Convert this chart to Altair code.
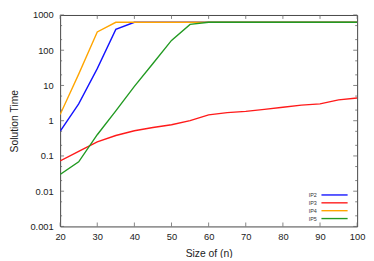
import altair as alt
import pandas as pd

sizes = [20, 25, 30, 35, 40, 45, 50, 55, 60, 65, 70, 75, 80, 85, 90, 95, 100]
ip2 = [0.5, 3.0, 30, 390, 620, 620, 620, 620, 620, 620, 620, 620, 620, 620, 620, 620, 620]
ip3 = [0.072, 0.135, 0.25, 0.38, 0.52, 0.64, 0.77, 1.0, 1.47, 1.7, 1.84, 2.1, 2.4, 2.77, 3.0, 3.9, 4.4]
ip4 = [1.5, 21, 330, 620, 620, 620, 620, 620, 620, 620, 620, 620, 620, 620, 620, 620, 620]
ip5 = [0.03, 0.068, 0.4, 1.9, 9.4, 42, 190, 540, 620, 620, 620, 620, 620, 620, 620, 620, 620]

series = ["IP2", "IP3", "IP4", "IP5"]
colors = ["#1414ff", "#ff1a1a", "#ffa500", "#229a22"]
y_major = [0.001, 0.01, 0.1, 1, 10, 100, 1000]
y_minor = [0.002, 0.005, 0.02, 0.05, 0.2, 0.5, 2, 5, 20, 50, 200, 500]
x_major = [20, 30, 40, 50, 60, 70, 80, 90, 100]

W, H = 302, 215
FONT = "Liberation Sans"

rows = []
for name, vals in zip(series, [ip2, ip3, ip4, ip5]):
    for n, t in zip(sizes, vals):
        rows.append({"series": name, "n": n, "t": t})
df = pd.DataFrame(rows)

xs = alt.Scale(domain=[20, 100], nice=False, zero=False)
ys = alt.Scale(type="log", domain=[0.001, 1000], nice=False)

x_axis = alt.Axis(values=x_major, title="Size of (n)", ticks=False, tickCount=9,
                  domain=False, grid=False, labelPadding=5, titlePadding=8,
                  labelOverlap=False, labelFlush=False, labelBound=False,
                  labelFontSize=9.5, titleFontSize=10.5, titleFontWeight="normal")
y_axis = alt.Axis(values=y_major, format="~g", title="Solution Time", ticks=False,
                  domain=False, grid=False, labelPadding=7, titlePadding=11,
                  labelOverlap=False, labelFlush=False,
                  labelFontSize=9.5, titleFontSize=10.5, titleFontWeight="normal")

X = lambda: alt.X("n:Q", scale=xs, axis=x_axis)
Y = lambda: alt.Y("t:Q", scale=ys, axis=y_axis)

lines = alt.Chart(df).mark_line(strokeWidth=1.4, clip=True).encode(
    x=X(), y=Y(),
    color=alt.Color("series:N", scale=alt.Scale(domain=series, range=colors), legend=None),
)

tick_color = "#666666"
ymaj_df = pd.DataFrame({"t": y_major})
ymin_df = pd.DataFrame({"t": y_minor})
x_df = pd.DataFrame({"n": x_major})

def yticks(d, length):
    left = alt.Chart(d).mark_rule(color=tick_color, strokeWidth=0.8).encode(
        y=Y(), x=alt.value(0), x2=alt.value(length))
    right = alt.Chart(d).mark_rule(color=tick_color, strokeWidth=0.8).encode(
        y=Y(), x=alt.value(W), x2=alt.value(W - length))
    return [left, right]

xbot = alt.Chart(x_df).mark_rule(color=tick_color, strokeWidth=0.8).encode(
    x=X(), y=alt.value(H), y2=alt.value(H - 4))
xtop = alt.Chart(x_df).mark_rule(color=tick_color, strokeWidth=0.8).encode(
    x=X(), y=alt.value(0), y2=alt.value(4))

main = alt.layer(lines, *yticks(ymaj_df, 4), *yticks(ymin_df, 2), xbot, xtop)

leg_df = pd.DataFrame({"series": series})
leg_y = alt.Y("series:N", scale=alt.Scale(type="point", domain=series, range=[183, 207], padding=0), axis=None)
leg_text = alt.Chart(leg_df).mark_text(align="right", baseline="middle", fontSize=5.5, color="#333333", font=FONT).encode(
    y=leg_y, x=alt.value(261), text="series:N")
leg_line = alt.Chart(leg_df).mark_rule(strokeWidth=1.4).encode(
    y=leg_y, x=alt.value(265.7), x2=alt.value(292.3),
    color=alt.Color("series:N", scale=alt.Scale(domain=series, range=colors), legend=None))
legend = alt.layer(leg_text, leg_line)

chart = alt.layer(main, legend).resolve_scale(y="independent").properties(
    width=W, height=H,
    autosize=alt.AutoSizeParams(type="none"),
    padding={"left": 53, "top": 5, "right": 9, "bottom": 30},
).configure(font=FONT).configure_view(stroke="#444444", strokeWidth=1).configure_axis(
    labelColor="#222222", titleColor="#222222", labelFont=FONT, titleFont=FONT)

chart.save("out.html", embed_options={"renderer": "svg", "actions": False})
